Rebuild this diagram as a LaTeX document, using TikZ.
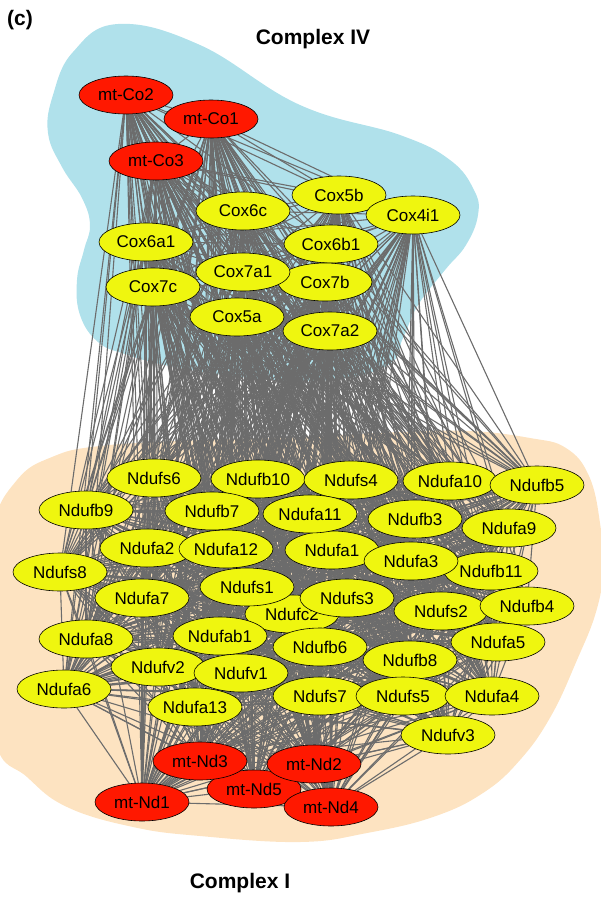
\documentclass[tikz,border=0pt]{standalone}
\usepackage{fontspec}
\setmainfont{Liberation Sans}
\usetikzlibrary{shapes.geometric}
\pgfdeclarelayer{blobs}
\pgfdeclarelayer{edges}
\pgfsetlayers{blobs,edges,main}
\definecolor{nodeyellow}{RGB}{239,246,15}
\definecolor{nodered}{RGB}{255,24,0}
\definecolor{blobblue}{RGB}{176,225,235}
\definecolor{blobpeach}{RGB}{253,227,193}
\definecolor{edgegray}{RGB}{108,108,108}
\begin{document}
\begin{tikzpicture}[x=1pt,y=-1pt,
  gene/.style={ellipse, draw=black, line width=0.6pt, minimum width=94pt, minimum height=38pt, inner sep=0pt, font=\fontsize{17}{20}\selectfont},
  yg/.style={gene, fill=nodeyellow},
  rg/.style={gene, fill=nodered},
  link/.style={draw=edgegray, line width=1.1pt},
  ttl/.style={font=\fontsize{21}{25}\selectfont\bfseries, inner sep=0pt}]
\useasboundingbox (0,0) rectangle (601,898);

% ---------- Complex IV nodes ----------
\node[rg] (mtCo2) at (126,95) {mt-Co2};
\node[rg] (mtCo1) at (211,119) {mt-Co1};
\node[rg] (mtCo3) at (156,161) {mt-Co3};
\node[yg] (Cox6c) at (243,211) {Cox6c};
\node[yg] (Cox5b) at (339,195) {Cox5b};
\node[yg] (Cox4i1) at (413,215) {Cox4i1};
\node[yg] (Cox6a1) at (146,242) {Cox6a1};
\node[yg] (Cox6b1) at (331,244) {Cox6b1};
\node[yg] (Cox7b) at (325,282) {Cox7b};
\node[yg] (Cox7a1) at (243,272) {Cox7a1};
\node[yg] (Cox7c) at (153,287) {Cox7c};
\node[yg] (Cox5a) at (237,317) {Cox5a};
\node[yg] (Cox7a2) at (330,331) {Cox7a2};

% ---------- Complex I nodes ----------
\node[yg] (Ndufc2) at (292,614) {Ndufc2};
\node[yg] (Ndufs1) at (247,587) {Ndufs1};
\node[yg] (Ndufs3) at (347,598) {Ndufs3};
\node[yg] (Ndufa2) at (147,548) {Ndufa2};
\node[yg] (Ndufa12) at (226,549) {Ndufa12};
\node[yg] (Ndufa1) at (332,550) {Ndufa1};
\node[yg] (Ndufb11) at (491,571) {Ndufb11};
\node[yg] (Ndufa3) at (411,561) {Ndufa3};
\node[yg] (Ndufa10) at (450,481) {Ndufa10};
\node[yg] (Ndufb5) at (537,485) {Ndufb5};
\node[yg] (Ndufs6) at (154,478) {Ndufs6};
\node[yg] (Ndufb10) at (258,479) {Ndufb10};
\node[yg] (Ndufs4) at (351,480) {Ndufs4};
\node[yg] (Ndufb9) at (86,510) {Ndufb9};
\node[yg] (Ndufb7) at (212,511) {Ndufb7};
\node[yg] (Ndufa11) at (310,514) {Ndufa11};
\node[yg] (Ndufb3) at (415,519) {Ndufb3};
\node[yg] (Ndufa9) at (509,528) {Ndufa9};
\node[yg] (Ndufs8) at (60,572) {Ndufs8};
\node[yg] (Ndufa7) at (142,598) {Ndufa7};
\node[yg] (Ndufs2) at (441,611) {Ndufs2};
\node[yg] (Ndufb4) at (527,606) {Ndufb4};
\node[yg] (Ndufa8) at (86,639) {Ndufa8};
\node[yg] (Ndufab1) at (220,636) {Ndufab1};
\node[yg] (Ndufb6) at (320,647) {Ndufb6};
\node[yg] (Ndufb8) at (410,660) {Ndufb8};
\node[yg] (Ndufa5) at (498,642) {Ndufa5};
\node[yg] (Ndufv2) at (158,667) {Ndufv2};
\node[yg] (Ndufv1) at (241,673) {Ndufv1};
\node[yg] (Ndufa6) at (64,689) {Ndufa6};
\node[yg] (Ndufa13) at (195,707) {Ndufa13};
\node[yg] (Ndufs7) at (320,696) {Ndufs7};
\node[yg] (Ndufs5) at (403,696) {Ndufs5};
\node[yg] (Ndufa4) at (492,696) {Ndufa4};
\node[yg] (Ndufv3) at (448,735) {Ndufv3};
\node[rg] (mtNd5) at (254,789) {mt-Nd5};
\node[rg] (mtNd3) at (200,761) {mt-Nd3};
\node[rg] (mtNd2) at (314,764) {mt-Nd2};
\node[rg] (mtNd4) at (331,807) {mt-Nd4};
\node[rg] (mtNd1) at (142,802) {mt-Nd1};

% ---------- labels ----------
\node[ttl] (lblc) at (20,20) {(c)};
\node[ttl] (lbl4) at (313,39) {Complex IV};
\node[ttl] (lbl1) at (240,883) {Complex I};

% ---------- edges ----------
\def\CIV{mtCo2,mtCo1,mtCo3,Cox6c,Cox5b,Cox4i1,Cox6a1,Cox6b1,Cox7b,Cox7a1,Cox7c,Cox5a,Cox7a2}
\def\CI{Ndufc2,Ndufs1,Ndufs3,Ndufa2,Ndufa12,Ndufa1,Ndufb11,Ndufa3,Ndufa10,Ndufb5,Ndufs6,Ndufb10,Ndufs4,Ndufb9,Ndufb7,Ndufa11,Ndufb3,Ndufa9,Ndufs8,Ndufa7,Ndufs2,Ndufb4,Ndufa8,Ndufab1,Ndufb6,Ndufb8,Ndufa5,Ndufv2,Ndufv1,Ndufa6,Ndufa13,Ndufs7,Ndufs5,Ndufa4,Ndufv3,mtNd5,mtNd3,mtNd2,mtNd4,mtNd1}
\begin{pgfonlayer}{edges}
\foreach \a [count=\i] in \CIV {
  \foreach \b [count=\j] in \CIV {
    \ifnum\j>\i \draw[link] (\a) -- (\b); \fi
  }
}
\foreach \a [count=\i] in \CI {
  \foreach \b [count=\j] in \CI {
    \ifnum\j>\i \draw[link] (\a) -- (\b); \fi
  }
}
\foreach \a in \CIV {
  \foreach \b in \CI {
    \draw[link] (\a) -- (\b);
  }
}
\end{pgfonlayer}

% ---------- background blobs ----------
\begin{pgfonlayer}{blobs}
\begin{scope}
\clip (0,0) rectangle (601,898);
\fill[blobblue] plot[smooth cycle, tension=0.7] coordinates {
  (118,24) (200,45) (300,105) (400,135) (450,160) (474,190) (478,215)
  (466,245) (445,270) (418,305) (403,338) (388,365) (330,380) (250,378)
  (170,366) (125,354) (98,342) (80,315) (77,280) (84,250) (90,225)
  (82,198) (62,167) (48,133) (53,95) (73,52)};
\fill[blobpeach] plot[smooth cycle, tension=0.7] coordinates {
  (100,446) (200,440) (300,437) (400,432) (470,431) (530,438) (566,448)
  (589,476) (600,523) (603,570) (596,612) (577,660) (551,716) (520,760)
  (483,793) (433,817) (367,833) (300,842) (200,836) (133,827) (67,807)
  (27,777) (-5,742) (-18,630) (-8,530) (17,480) (52,457)};
\end{scope}
\end{pgfonlayer}
\end{tikzpicture}
\end{document}
